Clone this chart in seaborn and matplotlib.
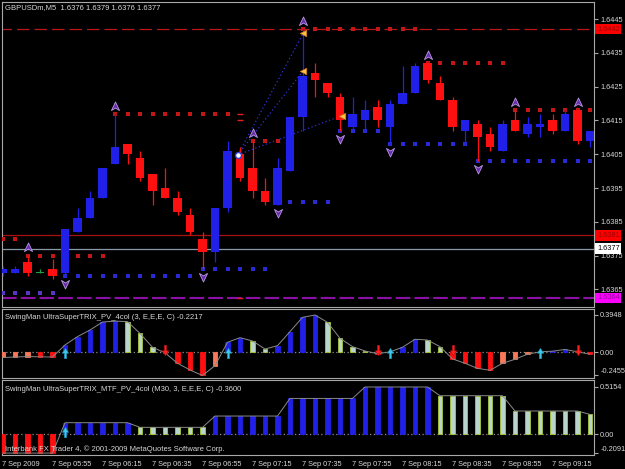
import matplotlib
matplotlib.use("Agg")
import matplotlib.pyplot as plt
import matplotlib.transforms as mtransforms
from matplotlib.path import Path
import seaborn as sns
import pandas as pd
import numpy as np

# MT4-like black style
sns.set_style("dark", {"axes.facecolor": "black", "figure.facecolor": "black"})
plt.rcParams['font.family'] = ['Liberation Sans', 'DejaVu Sans']

# ---- data: GBPUSDm M5, bars from 05:35 ----
opens = [1.6370, 1.6370, 1.6373, 1.6370, 1.6371, 1.6370, 1.6382, 1.6386, 1.6392, 1.6402,
         1.6408, 1.6404, 1.6399, 1.6395, 1.6392, 1.6387, 1.6380, 1.6376, 1.6389, 1.6405,
         1.6401, 1.6394, 1.6390, 1.6400, 1.6416, 1.6429, 1.6426, 1.6422, 1.6413, 1.6415,
         1.6419, 1.6413, 1.6420, 1.6423, 1.6432, 1.6426, 1.6421, 1.6412, 1.6414, 1.6411,
         1.6406, 1.6415, 1.6411, 1.6413, 1.6415, 1.6412, 1.6418, 1.6409]
highs = [1.6372, 1.6372, 1.6375, 1.6371, 1.6374, 1.6383, 1.6389, 1.6394, 1.6401, 1.6417,
         1.6408, 1.6406, 1.6399, 1.6401, 1.6394, 1.6389, 1.6382, 1.6389, 1.6409, 1.6407,
         1.6409, 1.6398, 1.6404, 1.6416, 1.6442, 1.6432, 1.6426, 1.6423, 1.6422, 1.6421,
         1.6421, 1.6421, 1.6431, 1.6432, 1.6432, 1.6428, 1.6422, 1.6415, 1.6415, 1.6413,
         1.6415, 1.6418, 1.6416, 1.6417, 1.6417, 1.6418, 1.6418, 1.6412]
lows = [1.6369, 1.6370, 1.6369, 1.6370, 1.6368, 1.6369, 1.6382, 1.6386, 1.6392, 1.6402,
        1.6402, 1.6397, 1.6390, 1.6392, 1.6387, 1.6381, 1.6371, 1.6373, 1.6388, 1.6397,
        1.6392, 1.6390, 1.6390, 1.6400, 1.6412, 1.6422, 1.6422, 1.6412, 1.6412, 1.6412,
        1.6413, 1.6408, 1.6420, 1.6423, 1.6426, 1.6421, 1.6412, 1.6408, 1.6403, 1.6406,
        1.6406, 1.6412, 1.6410, 1.6410, 1.6411, 1.6412, 1.6408, 1.6407]
closes = [1.6371, 1.6371, 1.6370, 1.6370, 1.6369, 1.6383, 1.6386, 1.6392, 1.6401, 1.6407,
          1.6405, 1.6398, 1.6394, 1.6392, 1.6388, 1.6382, 1.6376, 1.6389, 1.6406, 1.6398,
          1.6394, 1.6391, 1.6401, 1.6416, 1.6428, 1.6427, 1.6423, 1.6415, 1.6417, 1.6418,
          1.6415, 1.6420, 1.6423, 1.6431, 1.6427, 1.6421, 1.6413, 1.6415, 1.6410, 1.6407,
          1.6414, 1.6412, 1.6414, 1.6414, 1.6412, 1.6417, 1.6409, 1.6412]

peak_bars = [2, 9, 20, 24, 34, 41, 46]
trough_bars = [5, 16, 22, 27, 31, 38]

res_start = [0, 2, 9, 20, 24, 34, 41]
res_end = [1, 8, 18, 23, 33, 40, 47]
res_price = [1.6380, 1.6375, 1.6417, 1.6409, 1.6442, 1.6432, 1.6418]
sup_start = [0, 5, 16, 22, 27, 31, 38]
sup_end = [4, 15, 21, 26, 30, 37, 47]
sup_price = [1.6364, 1.6369, 1.6371, 1.6391, 1.6412, 1.6408, 1.6403]

# projection lines from the pivot circle
pivot_x, pivot_y = 18.82, 1.64048
proj_x = [24.06, 24.06, 27.14]
proj_y = [1.64408, 1.64297, 1.64164]
mark_x = [19, 19, 19]
mark_y = [1.6417, 1.6415, 1.63625]

hl_prices = [1.6442, 1.6381, 1.6377, 1.63625]
hl_labels = ['1.6442', '1.6381', '1.6377', '1.6364']
price_ticks = [1.6445, 1.6435, 1.6425, 1.6415, 1.6405, 1.6395, 1.6385, 1.6375, 1.6365]

trix = [-0.055, -0.05, -0.045, -0.048, -0.05, 0.078, 0.166, 0.236, 0.32, 0.33,
        0.325, 0.20, 0.053, -0.005, -0.116, -0.187, -0.2455, -0.141, 0.106, 0.155,
        0.12, 0.035, 0.07, 0.219, 0.37, 0.3948, 0.317, 0.148, 0.06, 0.014,
        -0.015, 0.005, 0.053, 0.138, 0.13, 0.06, -0.07, -0.116, -0.17, -0.19,
        -0.116, -0.074, -0.02, 0.005, 0.012, 0.03, 0.005, -0.02]
trix_up = [5, 18, 31, 43]
trix_dn = [13, 30, 36, 46]

mtf = [-0.2091, -0.2091, -0.2091, -0.2091, -0.2091, 0.124, 0.124, 0.124, 0.124, 0.124,
       0.124, 0.073, 0.073, 0.073, 0.073, 0.073, 0.073, 0.197, 0.197, 0.197,
       0.197, 0.197, 0.197, 0.39, 0.39, 0.39, 0.39, 0.39, 0.39, 0.5154,
       0.5154, 0.5154, 0.5154, 0.5154, 0.5154, 0.42, 0.42, 0.42, 0.42, 0.42,
       0.42, 0.252, 0.252, 0.252, 0.252, 0.252, 0.252, 0.215]
mtf_up = [5]

time_labels = ['7 Sep 2009', '7 Sep 05:55', '7 Sep 06:15', '7 Sep 06:35', '7 Sep 06:55',
               '7 Sep 07:15', '7 Sep 07:35', '7 Sep 07:55', '7 Sep 08:15', '7 Sep 08:35',
               '7 Sep 08:55', '7 Sep 09:15']

BLUE = '#2020E8'
RED = '#FF1010'
SALMON = '#F87858'
LIGHT = '#B8D4CC'
LIGHT_EDGE = '#A8C838'
TXT = '#D8D8D8'
FRAME = '#A8A8A8'
FS = 5.3

W, H = 625, 469
fig = plt.figure(figsize=(W / 100, H / 100), dpi=100, facecolor='black')


def px_axes(x0, y0, x1, y1):
    a = fig.add_axes([x0 / W, 1 - y1 / H, (x1 - x0) / W, (y1 - y0) / H])
    a.set_facecolor('black')
    for s in a.spines.values():
        s.set_color(FRAME)
        s.set_linewidth(0.8)
    a.grid(False)
    return a


ax = px_axes(2, 2, 594, 307)
ax1 = px_axes(2, 309, 594, 378)
ax2 = px_axes(2, 380, 594, 455)

bars = np.arange(len(opens))
df = pd.DataFrame({'bar': bars, 'open': opens, 'high': highs, 'low': lows, 'close': closes})
df['color'] = np.where(df['close'] > df['open'], BLUE, np.where(df['close'] < df['open'], RED, '#20A040'))

# ---- main price chart ----
ax.hlines(hl_prices[0], -1, 50, color='#B81818', lw=0.9, linestyles=[(0, (10, 4))])
ax.axhline(hl_prices[1], color='#A81010', lw=0.9)
ax.axhline(hl_prices[2], color='#8898A8', lw=0.9)
ax.axhline(hl_prices[3], color='#8C10A8', lw=1.5, ls=(0, (7, 2)))

for s, e, p in zip(res_start, res_end, res_price):
    xs = np.arange(s, e + 1)
    sns.scatterplot(x=xs, y=[p] * len(xs), ax=ax, marker='s', s=6, color='#C41616',
                    linewidth=0, legend=False, zorder=3)
for i, (s, e, p) in enumerate(zip(sup_start, sup_end, sup_price)):
    xs = np.arange(s, e + 1)
    c = '#5a34c4' if i == 0 else '#2A2AD4'
    sns.scatterplot(x=xs, y=[p] * len(xs), ax=ax, marker='s', s=6, color=c,
                    linewidth=0, legend=False, zorder=3)

for px_, py_ in zip(proj_x, proj_y):
    ax.plot([pivot_x, px_], [pivot_y, py_], color='#3030D8', lw=0.9, ls=(0, (1, 2)), zorder=2)

ax.vlines(df['bar'], df['low'], df['high'], color=df['color'], lw=0.9, zorder=4)
body = (df['close'] - df['open']).where(lambda v: v != 0, 0.00002)
ax.bar(df['bar'], body, bottom=df['open'], width=0.68, color=df['color'], linewidth=0, zorder=5)

up_chev = Path([(0, 1), (0.9, -0.9), (0, -0.35), (-0.9, -0.9), (0, 1)], closed=True)
dn_chev = Path([(0, -1), (0.9, 0.9), (0, 0.35), (-0.9, 0.9), (0, -1)], closed=True)
off = 0.00024
ax.scatter(peak_bars, [highs[b] + off for b in peak_bars], marker=up_chev, s=42,
           color='#6A2CA8', edgecolor='#B898E8', linewidth=0.6, zorder=6)
ax.scatter(trough_bars, [lows[b] - off for b in trough_bars], marker=dn_chev, s=42,
           color='#6A2CA8', edgecolor='#B898E8', linewidth=0.6, zorder=6)
ax.scatter(proj_x, proj_y, marker='<', s=22, color='#FFC048', edgecolor='#C07818',
           linewidth=0.5, zorder=7)
ax.scatter([pivot_x], [pivot_y], marker='o', s=18, color='white', edgecolor='#3040E0',
           linewidth=1.0, zorder=7)
ax.scatter(mark_x, mark_y, marker='_', s=20, color='#E02020', linewidth=1.0, zorder=7)

ax.set_xlim((2 - 2.5) / 12.5, (594 - 2.5) / 12.5)
ax.set_ylim(1.6445 - (307 - 19) / 33800, 1.6445 + (19 - 2) / 33800)
ax.set_xticks([])
ax.yaxis.tick_right()
ax.set_yticks(price_ticks)
ax.set_yticklabels([f'{p:.4f}' for p in price_ticks])
ax.tick_params(axis='y', colors=FRAME, labelcolor=TXT, labelsize=FS, length=3, width=0.8,
               pad=1.5, direction='out')
ax.set_xlabel('')
ax.set_ylabel('')

trans = mtransforms.blended_transform_factory(ax.transAxes, ax.transData)
box_styles = [('#FF0000', '#A00000'), ('#FF0000', '#A00000'), ('white', 'black'),
              ('#FF00FF', '#A000A0')]
for p, lab, (bg, fg) in zip(hl_prices, hl_labels, box_styles):
    ax.text(1.0 + 3 / 592, p, lab, transform=trans, ha='left', va='center', fontsize=FS,
            color=fg, clip_on=False, zorder=10,
            bbox=dict(boxstyle='square,pad=0.25', facecolor=bg, edgecolor='none'))


# ---- indicator panels ----
def hist_colors(vals, trend):
    cols, edges = [], []
    prev = None
    for v in vals:
        if prev is not None and v != prev:
            trend = 1 if v > prev else -1
        prev = v
        if v >= 0:
            c = BLUE if trend > 0 else LIGHT
        else:
            c = SALMON if trend > 0 else RED
        cols.append(c)
        edges.append(LIGHT_EDGE if c == LIGHT else c)
    return cols, edges


up_arrow = Path([(-0.22, -1), (0.22, -1), (0.22, 0.05), (0.6, 0.05), (0, 1), (-0.6, 0.05),
                 (-0.22, 0.05), (-0.22, -1)], closed=True)
dn_arrow = Path([(-0.22, 1), (0.22, 1), (0.22, -0.05), (0.6, -0.05), (0, -1), (-0.6, -0.05),
                 (-0.22, -0.05), (-0.22, 1)], closed=True)

for a, vals, init, ylim, ticks, ticklabs in [
        (ax1, trix, 1, (-(378 - 352.3) / 94.5, (352.3 - 309) / 94.5),
         [0.3948, 0.0, -0.2455], ['0.3948', '0.00', '-0.2455']),
        (ax2, mtf, -1, (-(455 - 434) / 91.2, (434 - 380) / 91.2),
         [0.5154, 0.0, -0.2091], ['0.5154', '0.00', '-0.2091'])]:
    cols, edges = hist_colors(vals, init)
    a.axhline(0, color='#909090', lw=0.9, ls=(0, (1, 2)), zorder=1)
    a.bar(bars, vals, width=0.34, color=cols, edgecolor=edges, linewidth=0.6, zorder=3)
    sns.lineplot(x=bars, y=vals, ax=a, color='#8A8A8A', lw=0.7, zorder=4)
    a.set_xlim((2 - 2.5) / 12.5, (594 - 2.5) / 12.5)
    a.set_ylim(*ylim)
    a.yaxis.tick_right()
    a.set_yticks(ticks)
    a.set_yticklabels(ticklabs)
    a.tick_params(axis='y', colors=FRAME, labelcolor=TXT, labelsize=FS, length=3, width=0.8,
                  pad=1.5, direction='out')
    for lbl in a.get_yticklabels()[2:]:
        lbl.set_va('bottom')
    a.set_xlabel('')
    a.set_ylabel('')

ax1.scatter(trix_up, [-0.01] * len(trix_up), marker=up_arrow, s=55, color='#40C8E8',
            edgecolor='#1890B0', linewidth=0.4, zorder=6)
ax1.scatter(trix_dn, [0.025] * len(trix_dn), marker=dn_arrow, s=55, color='#FF2020',
            edgecolor='#B01010', linewidth=0.4, zorder=6)
ax2.scatter(mtf_up, [0.02] * len(mtf_up), marker=up_arrow, s=55, color='#40C8E8',
            edgecolor='#1890B0', linewidth=0.4, zorder=6)

ax1.set_xticks([])
tick_bars = np.arange(0, 48, 4)
ax2.set_xticks(tick_bars)
ax2.set_xticklabels(time_labels)
ax2.tick_params(axis='x', colors=FRAME, labelcolor=TXT, labelsize=FS, length=3, width=0.8,
                pad=1.5, direction='out')
for lbl in ax2.get_xticklabels():
    lbl.set_ha('left')

# ---- overlay texts ----
def ftext(x, y, s):
    fig.text(x / W, 1 - y / H, s, color=TXT, fontsize=FS + 0.2, ha='left', va='center')


ftext(5, 8, 'GBPUSDm,M5  1.6376 1.6379 1.6376 1.6377')
ftext(5, 317, 'SwingMan UltraSuperTRIX_PV_4col (3, E,E,E, C) -0.2217')
ftext(5, 389, 'SwingMan UltraSuperTRIX_MTF_PV_4col (M30, 3, E,E,E, C) -0.3600')
ftext(5, 449, 'Interbank FX Trader 4, \u00a9 2001-2009 MetaQuotes Software Corp.')

fig.savefig('out.png', dpi=100, facecolor='black')
